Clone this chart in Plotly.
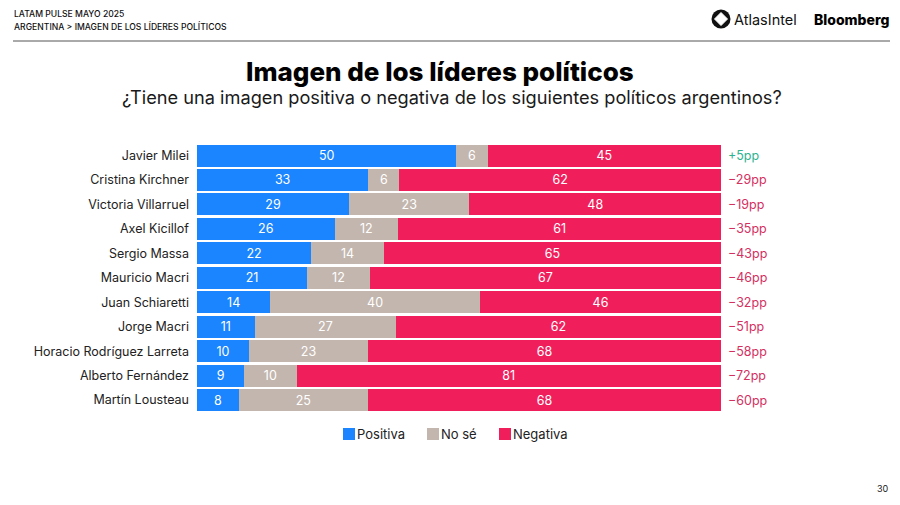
import plotly.graph_objects as go

names = ["Javier Milei", "Cristina Kirchner", "Victoria Villarruel", "Axel Kicillof", "Sergio Massa",
         "Mauricio Macri", "Juan Schiaretti", "Jorge Macri", "Horacio Rodríguez Larreta",
         "Alberto Fernández", "Martín Lousteau"]
positiva = [50, 33, 29, 26, 22, 21, 14, 11, 10, 9, 8]
nose = [6, 6, 23, 12, 14, 12, 40, 27, 23, 10, 25]
negativa = [45, 62, 48, 61, 65, 67, 46, 62, 68, 81, 68]
saldo = ["+5pp", "−29pp", "−19pp", "−35pp", "−43pp", "−46pp", "−32pp", "−51pp", "−58pp", "−72pp", "−60pp"]

W, H = 900, 505
FONT = "Inter"
BLUE = "#1a85ff"
GREY = "#c3b6ae"
RED = "#f01f5c"

fig = go.Figure()
# the source rows do not all add up to 100, the bars are stretched to full width
for label, vals, col in [("Positiva", positiva, BLUE), ("No sé", nose, GREY), ("Negativa", negativa, RED)]:
    fig.add_trace(go.Bar(y=names, x=vals, name=label, orientation="h", marker=dict(color=col, line_width=0),
                         text=vals, textposition="inside", insidetextanchor="middle", textangle=0,
                         textfont=dict(color="white", size=12.5, family=FONT)))

def px(x):
    return x / W

def py(y):
    return 1 - y / H

#row totals on the right of the bars
for n, s in zip(names, saldo):
    fig.add_annotation(x=100, y=n, xref="x", yref="y", text=s, showarrow=False, xanchor="left", xshift=5,
                       font=dict(size=12.5, family=FONT, color="#2db38f" if s.startswith("+") else "#d4305f"))

def txt(x, y, s, size, color="#111111", anchor="left", weight=None):
    fig.add_annotation(x=px(x), y=py(y), xref="paper", yref="paper", text=s, showarrow=False,
                       xanchor=anchor, yanchor="middle",
                       font=dict(size=size, family=FONT, color=color, weight=weight))

txt(12, 14, "LATAM PULSE MAYO 2025", 8.6, weight=500)
txt(12, 26, "ARGENTINA &gt; IMAGEN DE LOS LÍDERES POLÍTICOS", 8.6, weight=500)
txt(440, 71, "Imagen de los líderes políticos", 26, "#000000", "center", 800)
txt(452, 97, "¿Tiene una imagen positiva o negativa de los siguientes políticos argentinos?", 18.2, "#1a1a1a", "center")
txt(732, 19, "AtlasIntel", 14.5, "#111111")
txt(891, 19, "Bloomberg", 14, "#000000", "right", 800)
txt(891, 488, "30", 9, "#222222", "right")

#legend drawn by hand, plotly keeps too wide a gap between swatch and text
for x, label, col in [(343, "Positiva", BLUE), (427, "No sé", GREY), (499, "Negativa", RED)]:
    fig.add_shape(type="rect", xref="paper", yref="paper", x0=px(x), x1=px(x + 12), y0=py(440), y1=py(428),
                  fillcolor=col, line_width=0)
    txt(x + 12, 434, label, 13, "#222222")

#header rule and logo
fig.add_shape(type="line", xref="paper", yref="paper", x0=px(13), x1=px(890), y0=py(41), y1=py(41),
              line=dict(color="#555555", width=1))
fig.add_shape(type="circle", xref="paper", yref="paper", x0=px(711.5), x1=px(730.5), y0=py(28.5), y1=py(9.5),
              fillcolor="#111111", line_width=0)
fig.add_shape(type="path", xref="paper", yref="paper",
              path=f"M {px(721)} {py(12.5)} L {px(727.5)} {py(19)} L {px(721)} {py(25.5)} L {px(714.5)} {py(19)} Z",
              fillcolor="white", line=dict(color="white", width=1))

fig.update_layout(
    width=W, height=H, margin=dict(l=0, r=0, t=0, b=0),
    barmode="stack", barnorm="percent", bargap=0.1, showlegend=False,
    paper_bgcolor="white", plot_bgcolor="white", font=dict(family=FONT),
    xaxis=dict(domain=[px(197), px(721)], range=[0, 100], visible=False),
    yaxis=dict(domain=[py(412.3), py(143.3)], autorange="reversed", showgrid=False, showline=False, zeroline=False,
               ticks="", ticksuffix="  ", tickfont=dict(size=12.5, color="#222222", family=FONT)),
)

fig.write_html("out.html", config={"displayModeBar": False}, post_script="document.body.style.margin='0';")
